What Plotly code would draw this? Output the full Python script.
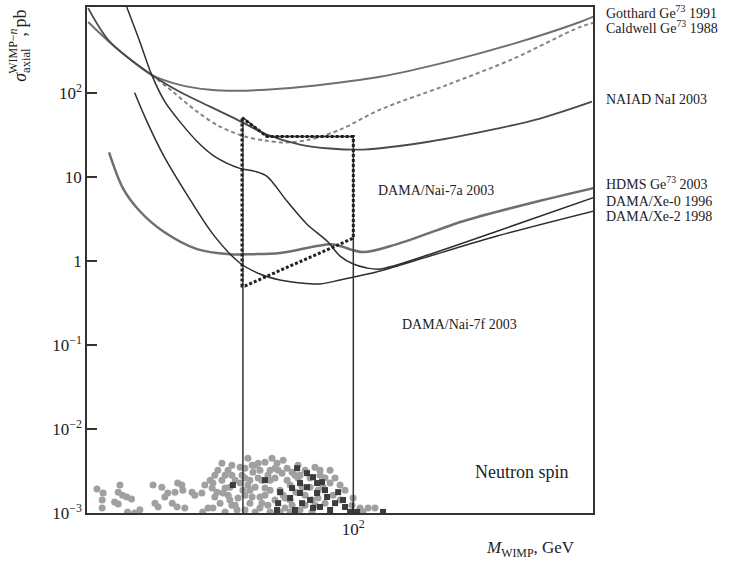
import plotly.graph_objects as go

# ---------------- data (mass in GeV, cross-section in pb) ----------------
gott_m = [10.1, 12.5, 17.5, 22.3, 29.0, 36.6, 53.0, 81.7, 126, 225, 398, 710, 822]
gott_s = [694, 370, 163, 124, 108.5, 105.6, 111.5, 128, 155, 233, 381, 694, 840]

cald_m = [17.5, 21.0, 25.9, 31.6, 39.2, 46.6, 55.4, 68.8, 89.2, 126, 225, 398, 710, 822]
cald_s = [163, 102.8, 59.6, 39.5, 30.1, 27.0, 25.6, 27.7, 36.4, 62.9, 124, 253, 605, 694]

naiad_m = [10.1, 12.2, 17.5, 22.3, 29.0, 36.0, 47.4, 63.1, 81.7, 108.8, 194.1, 346.4, 502.4, 787.6]
naiad_s = [1016, 402, 163, 102.8, 68.3, 49.2, 31.8, 24.2, 21.7, 21.1, 26.3, 37.4, 49.2, 78.2]

hdms_m = [12.1, 13.65, 15.8, 19.3, 25.9, 34.4, 42.0, 53.0, 81.7, 89.2, 108.8, 145.9, 258.2, 460.9, 822]
hdms_s = [19.5, 7.29, 3.89, 2.25, 1.38, 1.20, 1.20, 1.24, 1.58, 1.50, 1.27, 1.58, 2.96, 4.84, 7.49]

xe0_m = [14.1, 15.8, 17.5, 19.6, 22.3, 26.6, 30.2, 37.5, 42.8, 47.4, 56.4, 67.0, 79.7, 89.2, 100, 112.6, 126, 194.1, 346.4, 822]
xe0_s = [1045, 402, 163, 78.2, 45.3, 24.2, 17.4, 12.6, 11.6, 10.1, 5.11, 2.73, 1.72, 1.14, 0.916, 0.822, 0.800, 1.20, 2.25, 5.86]

xe2_m = [15.1, 16.8, 19.3, 23.7, 29.7, 37.5, 44.6, 53.0, 63.1, 75.0, 89.2, 126, 194.1, 346.4, 822]
xe2_s = [100, 45.3, 18.4, 6.19, 2.08, 0.942, 0.698, 0.592, 0.546, 0.531, 0.592, 0.757, 1.14, 1.97, 4.00]

nai7a_m = [38.2, 47.4, 100, 100, 39.2, 38.2, 38.2]
nai7a_s = [50.5, 30.1, 30.1, 1.86, 0.503, 0.503, 50.5]

nai7f_m = [38.5, 38.5, 47.4, 100, 100]
nai7f_s = [0.001, 50.5, 30.1, 30.1, 0.001]

# SUSY model points (sigma in units of 1e-3 pb)
gray_m = [10.9, 11.5, 11.4, 11.4, 13.3, 13.1, 13.6, 14.1, 14.7, 12.7, 13.1, 14.2, 15.1, 15.8,
          17.7, 19.1, 18.0, 18.5, 19.6, 20.1, 21.4, 21.9, 22.7, 22.9, 20.9, 21.8, 23.3, 24.8,
          25.4, 27.0, 27.7, 29.0, 29.5, 28.5, 27.2,
          32.1, 51.7, 56.4, 33.0, 37.6, 42.0, 44.6, 62.0, 48.7, 29.7, 30.8, 32.4, 34.4, 31.6,
          29.7, 40.9, 42.8, 44.6, 48.7, 40.9, 44.6, 38.5, 39.2, 56.4, 57.9, 55.4, 34.4, 36.6,
          35.0, 39.2, 45.4, 50.8, 53.1, 46.6, 50.8, 36.9, 47.8, 53.1, 42.8, 33.0, 35.0, 46.6,
          54.5, 65.9, 68.8, 62.0, 60.9, 65.9, 73.7, 78.3, 81.8, 71.8, 71.8, 63.1, 68.8, 77.0,
          81.8, 83.9, 89.2, 99.8, 98.9, 106, 113.6, 120.6, 108.7, 70.0, 78.3, 89.2, 93.1, 40.2,
          49.5, 43.9, 37.6, 33.9, 58.9, 31.0, 36.0, 54.5, 58.9, 63.1, 39.2, 42.8, 52.2, 75.0,
          40.9, 48.7, 32.1,
          30.2, 33.85, 36.0, 38.2, 41.7, 43.9, 47.8, 50.8, 54.0, 57.9, 60.4, 64.2, 75.0, 85.4,
          39.2, 41.7, 35.0, 45.4, 55.4, 48.7, 57.9, 70.0, 33.0, 46.6, 73.7, 65.9, 30.2, 40.2]
gray_s = [1.93, 1.73, 1.43, 1.15, 2.15, 1.77, 1.63, 1.55, 1.47, 1.35, 1.28, 1.03, 1.0, 1.09,
          2.15, 2.03, 1.31, 1.18, 1.55, 1.73, 1.77, 2.27, 2.15, 1.87, 1.31, 1.18, 1.15, 1.77,
          1.63, 1.73, 2.15, 2.46, 1.98, 1.15, 1.03,
          3.91, 3.91, 3.41, 2.82, 3.51, 3.06, 3.23, 3.71, 3.23, 2.27, 1.77, 1.73, 1.43, 1.31,
          1.15, 2.46, 2.03, 1.55, 1.87, 1.31, 1.15, 1.87, 1.085, 2.46, 1.43, 1.15, 2.03, 1.085,
          2.82, 2.60, 2.46, 2.60, 1.87, 1.63, 1.43, 1.51, 1.24, 1.03, 1.03, 1.03, 3.71, 4.02,
          4.25, 3.23, 2.60, 2.60, 1.77, 1.63, 1.87, 2.60, 3.23, 3.51, 1.24, 1.085, 2.03, 2.03,
          2.27, 1.63, 1.43, 1.51, 1.24, 1.15, 1.15, 1.15, 1.03, 1.43, 1.31, 2.15, 1.87, 4.49,
          4.49, 3.91, 2.27, 1.63, 3.06, 3.23, 1.24, 1.63, 1.24, 2.82, 3.41, 3.71, 3.23, 2.82,
          1.87, 2.46, 2.46,
          2.82, 3.23, 2.46, 2.82, 3.71, 2.60, 2.82, 3.41, 2.98, 2.15, 2.82, 2.03, 3.23, 2.60,
          1.63, 1.55, 1.24, 1.31, 1.51, 1.03, 1.03, 1.03, 1.98, 1.98, 1.51, 1.24, 1.55, 2.15]

dark_m = [35.3, 46.6, 53.1, 58.9, 63.1, 67.0, 61.5, 63.1, 52.2, 64.2, 68.8, 67.0, 73.1, 60.4,
          70.6, 51.7, 70.6, 76.3, 73.1, 79.7, 87.7, 85.4, 91.5, 93.1, 81.8, 75.0, 97.2, 103.3,
          129.3, 57.9, 78.3]
dark_s = [2.15, 2.46, 1.77, 1.98, 2.27, 2.98, 3.41, 1.73, 1.31, 1.31, 1.43, 2.03, 2.27, 1.085,
          1.15, 1.085, 2.67, 2.33, 1.73, 1.55, 1.77, 1.31, 1.43, 1.18, 1.085, 1.18, 1.03, 1.03,
          1.03, 1.51, 1.87]

ytick_vals = [1e-3, 1e-2, 1e-1, 1, 10, 100]
ytick_text = ["10<sup>−3</sup>", "10<sup>−2</sup>", "10<sup>−1</sup>", "1", "10", "10<sup>2</sup>"]
xtick_vals = [100]
xtick_text = ["10<sup>2</sup>"]

curve_labels = ["Gotthard Ge<sup>73</sup> 1991", "Caldwell Ge<sup>73</sup> 1988", "NAIAD NaI 2003",
                "HDMS Ge<sup>73</sup> 2003", "DAMA/Xe-0 1996", "DAMA/Xe-2 1998"]

# ---------------- figure ----------------
W, H = 734, 565
L, R, T, B = 87, 593, 5, 513
def px(x):
    return (x - L) / (R - L)
def py(y):
    return (B - y) / (B - T)

SERIF = "Liberation Serif, Times New Roman, serif"
INK = "#222222"
fig = go.Figure()

fig.add_trace(go.Scatter(x=gray_m, y=[v * 1e-3 for v in gray_s], mode="markers",
                         marker=dict(color="#a0a0a0", size=7, line=dict(width=0)),
                         hoverinfo="skip"))
fig.add_trace(go.Scatter(x=dark_m, y=[v * 1e-3 for v in dark_s], mode="markers",
                         marker=dict(color="#3c3c3c", size=6, symbol="square", line=dict(width=0)),
                         hoverinfo="skip"))

def curve(xs, ys, color, width, dash="solid", shape="spline"):
    fig.add_trace(go.Scatter(x=xs, y=ys, mode="lines",
                             line=dict(color=color, width=width, dash=dash, shape=shape,
                                       smoothing=0.9 if shape == "spline" else None),
                             hoverinfo="skip"))

curve(gott_m, gott_s, "#6f6f6f", 2)
curve(cald_m, cald_s, "#858585", 2, dash="4px,3px")
curve(naiad_m, naiad_s, "#4a4a4a", 1.8)
curve(hdms_m, hdms_s, "#6f6f6f", 2.5)
curve(xe0_m, xe0_s, "#2e2e2e", 1.5)
curve(xe2_m, xe2_s, "#2e2e2e", 1.5)
curve(nai7f_m, nai7f_s, "#333333", 1.5, shape="linear")
curve(nai7a_m, nai7a_s, "#222222", 3, dash="3px,2px", shape="linear")

axis_common = dict(type="log", showgrid=False, zeroline=False, showline=True, linecolor="#333333",
                   linewidth=1.5, mirror=True, ticks="inside", ticklen=10, tickwidth=1.5,
                   tickcolor="#333333", tickfont=dict(family=SERIF, size=17, color=INK))
fig.update_xaxes(range=[1, 2.9], tickvals=xtick_vals, ticktext=xtick_text, **axis_common)
fig.update_yaxes(range=[-3, 3.02], tickvals=ytick_vals, ticktext=ytick_text, **axis_common)

def note(text, x, y, size, xanchor="center", angle=0):
    return dict(text=text, xref="paper", yref="paper", x=px(x), y=py(y), xanchor=xanchor,
                yanchor="middle", textangle=angle, showarrow=False,
                font=dict(family=SERIF, size=size, color=INK))

ann = []
label_y = [10, 25, 98, 182, 200, 215]
for t, yy in zip(curve_labels, label_y):
    ann.append(note(t, 604, yy, 14, xanchor="left"))
ann.append(note("DAMA/Nai-7a 2003", 436, 189, 14))
ann.append(note("DAMA/Nai-7f 2003", 459, 324, 14))
ann.append(note("Neutron spin", 522, 472, 18))
ann.append(note("<i>M</i><sub>WIMP</sub>, GeV", 530, 549, 17))
ann.append(note("<i>σ</i><sub>axial</sub><span style='font-size:12px'>&nbsp;&nbsp;&nbsp;&nbsp;</span>, pb",
                22, 44, 18, angle=-90))
ann.append(note("WIMP−<i>n</i>", 13, 50, 12, angle=-90))

fig.update_layout(width=W, height=H, margin=dict(l=L, r=W - R, t=T, b=H - B),
                  plot_bgcolor="white", paper_bgcolor="white", showlegend=False,
                  annotations=ann)

fig.write_html("out.html")
